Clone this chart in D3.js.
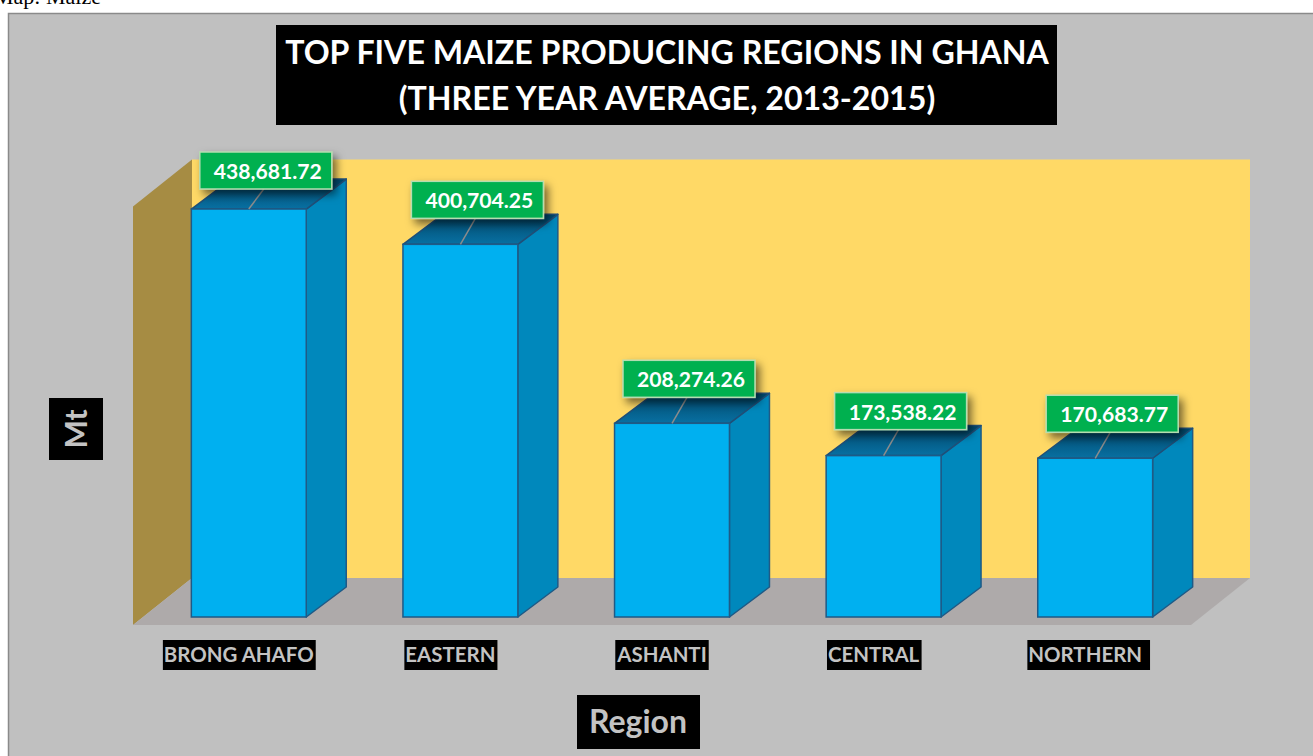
<!DOCTYPE html>
<html>
<head>
<meta charset="utf-8">
<script src="https://cdn.jsdelivr.net/npm/d3@7"></script>
<style>
  html, body { margin: 0; padding: 0; background: #fff; overflow: hidden; }
  text { font-family: Lato, "Open Sans", sans-serif; font-weight: bold; }
</style>
</head>
<body>
<div id="chart"></div>
<script>
// values
var categories = ["BRONG AHAFO", "EASTERN", "ASHANTI", "CENTRAL", "NORTHERN"];
var production = [438681.72, 400704.25, 208274.26, 173538.22, 170683.77];
var yDomain = [0, 450000];
var titleLines = ["TOP FIVE MAIZE PRODUCING REGIONS IN GHANA", "(THREE YEAR AVERAGE, 2013-2015)"];
var yTitle = "Mt";
var xTitle = "Region";

var W = 1313, H = 756;

// 3d box: front plane of the floor, and depth offsets
var floorY = 625, plotH = 418.5;
var depth = [59, -47];      // whole floor depth
var barOff = [10, -8];      // where the bar front sits inside the depth
var barDepth = [40, -30];

var fmt = d3.format(",.2f");

var svg = d3.select("#chart").append("svg")
  .attr("width", W)
  .attr("height", H);

var defs = svg.append("defs");
defs.append("filter").attr("id", "shadow")
  .attr("x", "-20%").attr("y", "-40%").attr("width", "150%").attr("height", "200%")
  .append("feDropShadow")
  .attr("dx", 4).attr("dy", 5).attr("stdDeviation", 4)
  .attr("flood-color", "#000").attr("flood-opacity", 0.55);

var topGrad = defs.append("linearGradient").attr("id", "topface")
  .attr("x1", 0).attr("y1", 0).attr("x2", 0).attr("y2", 1);
topGrad.append("stop").attr("offset", "0%").attr("stop-color", "#00486c");
topGrad.append("stop").attr("offset", "100%").attr("stop-color", "#0870a2");

// caption above the chart (only its lower edge shows in the reference)
svg.append("text")
  .attr("x", -6).attr("y", 4)
  .style("font-family", "'Liberation Serif', serif")
  .style("font-weight", "normal")
  .attr("font-size", 22)
  .attr("fill", "#000")
  .text("Map: Maize");

// chart area
svg.append("rect")
  .attr("x", 8.5).attr("y", 13.5)
  .attr("width", W).attr("height", H)
  .attr("fill", "#c0c0c0")
  .attr("stroke", "#8a8a8a")
  .attr("stroke-width", 1.5);

var x = d3.scaleBand().domain(categories).range([133, 1191]);
var y = d3.scaleLinear().domain(yDomain).range([floorY, floorY - plotH]);
var bw = x.bandwidth();
var barW = bw * 0.543;

var x0 = x.range()[0], x1 = x.range()[1];
var yTop = y(yDomain[1]), yBase = y(0);

// back wall
svg.append("rect")
  .attr("x", x0 + depth[0]).attr("y", yTop + depth[1])
  .attr("width", x1 - x0).attr("height", yBase - yTop)
  .attr("fill", "#ffd966");

// side wall
svg.append("polygon")
  .attr("points", [
    [x0, yTop], [x0 + depth[0], yTop + depth[1]],
    [x0 + depth[0], yBase + depth[1]], [x0, yBase]
  ].join(" "))
  .attr("fill", "#a68c43");

// floor
svg.append("polygon")
  .attr("points", [
    [x0, yBase], [x0 + depth[0], yBase + depth[1]],
    [x1 + depth[0], yBase + depth[1]], [x1, yBase]
  ].join(" "))
  .attr("fill", "#aeaaaa");

var data = categories.map(function (c, i) { return { cat: c, v: production[i] }; });

function front(d) {
  var bx = x(d.cat) + (bw - barW) / 2 + barOff[0];
  return { x: bx, y: y(d.v) + barOff[1], b: yBase + barOff[1] };
}

var bars = svg.selectAll("g.bar").data(data).enter().append("g").attr("class", "bar");

// right side
bars.append("polygon")
  .attr("points", function (d) {
    var f = front(d);
    return [[f.x + barW, f.y], [f.x + barW + barDepth[0], f.y + barDepth[1]],
      [f.x + barW + barDepth[0], f.b + barDepth[1]], [f.x + barW, f.b]].join(" ");
  })
  .attr("fill", "#0088bc")
  .attr("stroke", "#1f5a86").attr("stroke-width", 1.5).attr("stroke-linejoin", "round");

// top
bars.append("polygon")
  .attr("points", function (d) {
    var f = front(d);
    return [[f.x, f.y], [f.x + barDepth[0], f.y + barDepth[1]],
      [f.x + barW + barDepth[0], f.y + barDepth[1]], [f.x + barW, f.y]].join(" ");
  })
  .attr("fill", "url(#topface)")
  .attr("stroke", "#1f4f78").attr("stroke-width", 1.5).attr("stroke-linejoin", "round");

// front
bars.append("rect")
  .attr("x", function (d) { return front(d).x; })
  .attr("y", function (d) { return front(d).y; })
  .attr("width", barW)
  .attr("height", function (d) { var f = front(d); return f.b - f.y; })
  .attr("fill", "#00b0f0")
  .attr("stroke", "#1f5a86").attr("stroke-width", 1.5);

// data labels
var boxW = 132, boxH = 37;
function labelBox(d) {
  var f = front(d);
  var cx = f.x + barW / 2 + 17;
  var top = Math.max(f.y - 26 - boxH, 152);
  return { cx: cx, top: top, fx: f.x + barW / 2, fy: f.y };
}

var labels = svg.selectAll("g.lab").data(data).enter().append("g").attr("class", "lab");

labels.append("line")
  .attr("x1", function (d) { var b = labelBox(d); return b.cx - 2; })
  .attr("y1", function (d) { var b = labelBox(d); return b.top + boxH; })
  .attr("x2", function (d) { return labelBox(d).fx; })
  .attr("y2", function (d) { return labelBox(d).fy; })
  .attr("stroke", "#8c8c8c").attr("stroke-width", 1.5);

labels.append("rect")
  .attr("x", function (d) { return labelBox(d).cx - boxW / 2; })
  .attr("y", function (d) { return labelBox(d).top; })
  .attr("width", boxW).attr("height", boxH)
  .attr("fill", "#00b050")
  .attr("stroke", "#b5dcb0").attr("stroke-width", 1.5)
  .attr("filter", "url(#shadow)");

labels.append("text")
  .attr("x", function (d) { return labelBox(d).cx + 2; })
  .attr("y", function (d) { return labelBox(d).top + 27; })
  .attr("text-anchor", "middle")
  .attr("font-size", 21)
  .attr("fill", "#fff")
  .text(function (d) { return fmt(d.v); });

// fit text to a target width
function fit(sel, width) {
  sel.each(function () {
    var fs = parseFloat(d3.select(this).attr("font-size"));
    var w = this.getComputedTextLength();
    if (w > 0) d3.select(this).attr("font-size", fs * width / w);
  });
}
fit(labels.selectAll("text"), 108);

// category labels
var cats = svg.selectAll("g.cat").data(categories).enter().append("g").attr("class", "cat");
cats.append("rect").attr("fill", "#000");
var catText = cats.append("text")
  .attr("x", function (d) { return x(d) + bw / 2; })
  .attr("y", 662)
  .attr("text-anchor", "middle")
  .attr("font-size", 19)
  .attr("fill", "#c3c3c3")
  .text(function (d) { return d; });
// same size for all, taken from the widest label
fit(catText.filter(function (d, i) { return i === 0; }), 150);
catText.attr("font-size", catText.filter(function (d, i) { return i === 0; }).attr("font-size"));
cats.each(function () {
  var t = d3.select(this).select("text");
  var bb = t.node().getBBox();
  var extra = d3.select(this).datum() === "NORTHERN" ? 7 : 1;
  d3.select(this).select("rect")
    .attr("x", bb.x - 1).attr("y", 640)
    .attr("width", bb.width + 2 + extra).attr("height", 30);
});

// title
var tg = svg.append("g");
tg.append("rect")
  .attr("x", 276).attr("y", 25)
  .attr("width", 781).attr("height", 100)
  .attr("fill", "#000");
var tt = tg.selectAll("text").data(titleLines).enter().append("text")
  .attr("x", 667)
  .attr("y", function (d, i) { return [64, 110][i]; })
  .attr("text-anchor", "middle")
  .attr("font-size", 32)
  .attr("fill", "#fff")
  .text(function (d) { return d; });
fit(tt.filter(function (d, i) { return i === 0; }), 764);
tt.filter(function (d, i) { return i === 1; })
  .attr("font-size", tt.filter(function (d, i) { return i === 0; }).attr("font-size"));

// axis titles
var yt = svg.append("g").attr("transform", "translate(76,429) rotate(-90)");
yt.append("rect").attr("x", -31).attr("y", -27).attr("width", 62).attr("height", 54).attr("fill", "#000");
yt.append("text")
  .attr("x", 0).attr("y", 11)
  .attr("text-anchor", "middle")
  .attr("font-size", 30)
  .attr("fill", "#c3c3c3")
  .text(yTitle);

var xt = svg.append("g");
xt.append("rect").attr("x", 577).attr("y", 695).attr("width", 123).attr("height", 54).attr("fill", "#000");
xt.append("text")
  .attr("x", 638).attr("y", 733)
  .attr("text-anchor", "middle")
  .attr("font-size", 32)
  .attr("fill", "#c3c3c3")
  .text(xTitle);
</script>
</body>
</html>
